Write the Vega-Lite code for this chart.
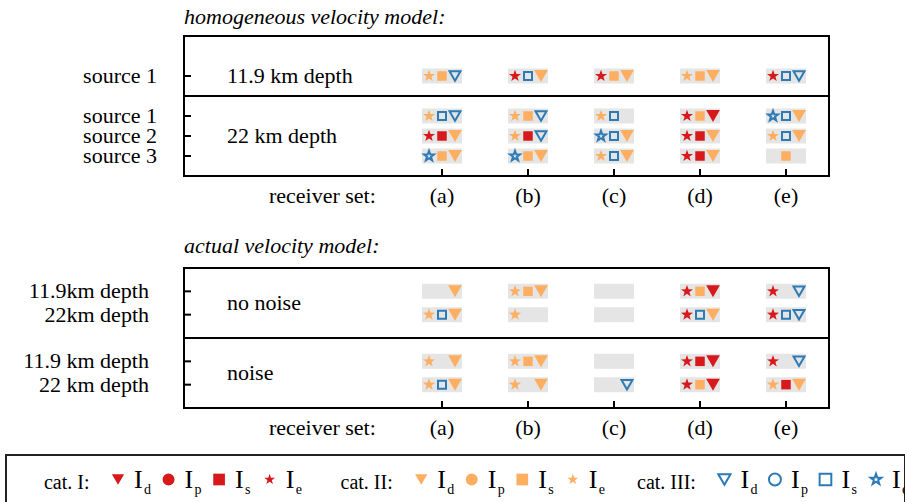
{
  "$schema": "https://vega.github.io/schema/vega-lite/v6.json",
  "padding": {"left": 5, "right": 0, "top": 5, "bottom": 0},
  "spacing": 14,
  "config": {
    "font": "Liberation Serif",
    "view": {"stroke": "black", "strokeWidth": 2},
    "title": {"font": "Liberation Serif", "fontSize": 22, "fontStyle": "italic", "fontWeight": "normal", "anchor": "start", "frame": "group", "color": "black"}
  },
  "datasets": {
    "c1": [
      {"r":1,"row":5},{"r":2,"row":5},{"r":3,"row":5},{"r":4,"row":5},{"r":5,"row":5},
      {"r":1,"row":3},{"r":2,"row":3},{"r":3,"row":3},{"r":4,"row":3},{"r":5,"row":3},
      {"r":1,"row":2},{"r":2,"row":2},{"r":3,"row":2},{"r":4,"row":2},{"r":5,"row":2},
      {"r":1,"row":1},{"r":2,"row":1},{"r":3,"row":1},{"r":4,"row":1},{"r":5,"row":1}
    ],
    "s1": [
      {"r":1,"row":5,"slot":"e","cat":"II"},{"r":1,"row":5,"slot":"s","cat":"II"},{"r":1,"row":5,"slot":"d","cat":"III"},
      {"r":2,"row":5,"slot":"e","cat":"I"},{"r":2,"row":5,"slot":"s","cat":"III"},{"r":2,"row":5,"slot":"d","cat":"II"},
      {"r":3,"row":5,"slot":"e","cat":"I"},{"r":3,"row":5,"slot":"s","cat":"II"},{"r":3,"row":5,"slot":"d","cat":"II"},
      {"r":4,"row":5,"slot":"e","cat":"II"},{"r":4,"row":5,"slot":"s","cat":"II"},{"r":4,"row":5,"slot":"d","cat":"II"},
      {"r":5,"row":5,"slot":"e","cat":"I"},{"r":5,"row":5,"slot":"s","cat":"III"},{"r":5,"row":5,"slot":"d","cat":"III"},
      {"r":1,"row":3,"slot":"e","cat":"II"},{"r":1,"row":3,"slot":"s","cat":"III"},{"r":1,"row":3,"slot":"d","cat":"III"},
      {"r":2,"row":3,"slot":"e","cat":"II"},{"r":2,"row":3,"slot":"s","cat":"II"},{"r":2,"row":3,"slot":"d","cat":"III"},
      {"r":3,"row":3,"slot":"e","cat":"II"},{"r":3,"row":3,"slot":"s","cat":"III"},
      {"r":4,"row":3,"slot":"e","cat":"I"},{"r":4,"row":3,"slot":"s","cat":"II"},{"r":4,"row":3,"slot":"d","cat":"I"},
      {"r":5,"row":3,"slot":"e","cat":"III"},{"r":5,"row":3,"slot":"s","cat":"III"},{"r":5,"row":3,"slot":"d","cat":"II"},
      {"r":1,"row":2,"slot":"e","cat":"I"},{"r":1,"row":2,"slot":"s","cat":"I"},{"r":1,"row":2,"slot":"d","cat":"II"},
      {"r":2,"row":2,"slot":"e","cat":"II"},{"r":2,"row":2,"slot":"s","cat":"I"},{"r":2,"row":2,"slot":"d","cat":"III"},
      {"r":3,"row":2,"slot":"e","cat":"III"},{"r":3,"row":2,"slot":"s","cat":"III"},{"r":3,"row":2,"slot":"d","cat":"II"},
      {"r":4,"row":2,"slot":"e","cat":"I"},{"r":4,"row":2,"slot":"s","cat":"I"},{"r":4,"row":2,"slot":"d","cat":"II"},
      {"r":5,"row":2,"slot":"e","cat":"II"},{"r":5,"row":2,"slot":"s","cat":"III"},{"r":5,"row":2,"slot":"d","cat":"II"},
      {"r":1,"row":1,"slot":"e","cat":"III"},{"r":1,"row":1,"slot":"s","cat":"II"},{"r":1,"row":1,"slot":"d","cat":"II"},
      {"r":2,"row":1,"slot":"e","cat":"III"},{"r":2,"row":1,"slot":"s","cat":"II"},{"r":2,"row":1,"slot":"d","cat":"II"},
      {"r":3,"row":1,"slot":"e","cat":"II"},{"r":3,"row":1,"slot":"s","cat":"III"},{"r":3,"row":1,"slot":"d","cat":"II"},
      {"r":4,"row":1,"slot":"e","cat":"I"},{"r":4,"row":1,"slot":"s","cat":"I"},{"r":4,"row":1,"slot":"d","cat":"II"},
      {"r":5,"row":1,"slot":"s","cat":"II"}
    ],
    "c2": [
      {"r":1,"row":5},{"r":2,"row":5},{"r":3,"row":5},{"r":4,"row":5},{"r":5,"row":5},
      {"r":1,"row":4},{"r":2,"row":4},{"r":3,"row":4},{"r":4,"row":4},{"r":5,"row":4},
      {"r":1,"row":2},{"r":2,"row":2},{"r":3,"row":2},{"r":4,"row":2},{"r":5,"row":2},
      {"r":1,"row":1},{"r":2,"row":1},{"r":3,"row":1},{"r":4,"row":1},{"r":5,"row":1}
    ],
    "s2": [
      {"r":1,"row":5,"slot":"d","cat":"II"},
      {"r":2,"row":5,"slot":"e","cat":"II"},{"r":2,"row":5,"slot":"s","cat":"II"},{"r":2,"row":5,"slot":"d","cat":"II"},
      {"r":4,"row":5,"slot":"e","cat":"I"},{"r":4,"row":5,"slot":"s","cat":"II"},{"r":4,"row":5,"slot":"d","cat":"I"},
      {"r":5,"row":5,"slot":"e","cat":"I"},{"r":5,"row":5,"slot":"d","cat":"III"},
      {"r":1,"row":4,"slot":"e","cat":"II"},{"r":1,"row":4,"slot":"s","cat":"III"},{"r":1,"row":4,"slot":"d","cat":"II"},
      {"r":2,"row":4,"slot":"e","cat":"II"},
      {"r":4,"row":4,"slot":"e","cat":"I"},{"r":4,"row":4,"slot":"s","cat":"III"},{"r":4,"row":4,"slot":"d","cat":"II"},
      {"r":5,"row":4,"slot":"e","cat":"I"},{"r":5,"row":4,"slot":"s","cat":"III"},{"r":5,"row":4,"slot":"d","cat":"III"},
      {"r":1,"row":2,"slot":"e","cat":"II"},{"r":1,"row":2,"slot":"d","cat":"II"},
      {"r":2,"row":2,"slot":"e","cat":"II"},{"r":2,"row":2,"slot":"s","cat":"II"},{"r":2,"row":2,"slot":"d","cat":"II"},
      {"r":4,"row":2,"slot":"e","cat":"I"},{"r":4,"row":2,"slot":"s","cat":"I"},{"r":4,"row":2,"slot":"d","cat":"I"},
      {"r":5,"row":2,"slot":"e","cat":"I"},{"r":5,"row":2,"slot":"d","cat":"III"},
      {"r":1,"row":1,"slot":"e","cat":"II"},{"r":1,"row":1,"slot":"s","cat":"III"},{"r":1,"row":1,"slot":"d","cat":"II"},
      {"r":2,"row":1,"slot":"e","cat":"II"},{"r":2,"row":1,"slot":"d","cat":"II"},
      {"r":3,"row":1,"slot":"d","cat":"III"},
      {"r":4,"row":1,"slot":"e","cat":"I"},{"r":4,"row":1,"slot":"s","cat":"II"},{"r":4,"row":1,"slot":"d","cat":"I"},
      {"r":5,"row":1,"slot":"e","cat":"II"},{"r":5,"row":1,"slot":"s","cat":"I"},{"r":5,"row":1,"slot":"d","cat":"II"}
    ],
    "xl": [{"r":1,"label":"(a)"},{"r":2,"label":"(b)"},{"r":3,"label":"(c)"},{"r":4,"label":"(d)"},{"r":5,"label":"(e)"}],
    "yl1": [{"row":5,"label":"source 1"},{"row":3,"label":"source 1"},{"row":2,"label":"source 2"},{"row":1,"label":"source 3"}],
    "yl2": [{"row":5,"label":"11.9km depth\u00a0"},{"row":4,"label":"22km depth"},{"row":2,"label":"11.9 km depth\u00a0"},{"row":1,"label":"22 km depth"}],
    "leg": [
      {"key":"Ilabel","cat":"I","kind":"label","text":"cat. I:"},{"key":"Id","cat":"I","kind":"d"},{"key":"Ip","cat":"I","kind":"p"},{"key":"Is","cat":"I","kind":"s"},{"key":"Ie","cat":"I","kind":"e"},
      {"key":"IIlabel","cat":"II","kind":"label","text":"cat. II:"},{"key":"IId","cat":"II","kind":"d"},{"key":"IIp","cat":"II","kind":"p"},{"key":"IIs","cat":"II","kind":"s"},{"key":"IIe","cat":"II","kind":"e"},
      {"key":"IIIlabel","cat":"III","kind":"label","text":"cat. III:"},{"key":"IIId","cat":"III","kind":"d"},{"key":"IIIp","cat":"III","kind":"p"},{"key":"IIIs","cat":"III","kind":"s"},{"key":"IIIe","cat":"III","kind":"e"}
    ]
  },
  "vconcat": [
    {
      "width": 645, "height": 140,
      "title": {"text": "homogeneous velocity model:", "offset": -10, "baseline": "alphabetic"},
      "layer": [
        {"data": {"name": "c1"}, "mark": {"type": "point", "shape": "M-1,-0.375H1V0.375H-1Z", "size": 1600, "filled": true, "color": "#e5e5e5", "opacity": 1, "strokeWidth": 0},
         "encoding": {
           "x": {"field": "r", "type": "quantitative", "scale": {"domain": [-2, 5.5], "nice": false, "zero": false}, "axis": null},
           "y": {"field": "row", "type": "quantitative", "scale": {"domain": [0, 7], "nice": false, "zero": false}, "axis": null}
         }},
        {"data": {"name": "s1"}, "transform": [{"filter": "datum.slot == 'e' && datum.cat != 'III'"}], "mark": {"type": "point", "shape": "M0,-1L0.235,-0.324L0.951,-0.309L0.38,0.124L0.588,0.809L0,0.4L-0.588,0.809L-0.38,0.124L-0.951,-0.309L-0.235,-0.324Z", "size": 160, "xOffset": -13, "filled": true, "opacity": 1},
         "encoding": {"x": {"field": "r", "type": "quantitative", "axis": null}, "y": {"field": "row", "type": "quantitative", "axis": null}, "color": {"field": "cat", "type": "nominal", "scale": {"domain": ["I","II"], "range": ["#d7191c","#fdae61"]}, "legend": null}}},
        {"data": {"name": "s1"}, "transform": [{"filter": "datum.slot == 'e' && datum.cat == 'III'"}], "mark": {"type": "point", "shape": "M0,-1L0.235,-0.324L0.951,-0.309L0.38,0.124L0.588,0.809L0,0.4L-0.588,0.809L-0.38,0.124L-0.951,-0.309L-0.235,-0.324Z", "size": 110, "xOffset": -13, "filled": false, "opacity": 1, "color": "#2c7bb6", "strokeWidth": 2},
         "encoding": {"x": {"field": "r", "type": "quantitative", "axis": null}, "y": {"field": "row", "type": "quantitative", "axis": null}}},
        {"data": {"name": "s1"}, "transform": [{"filter": "datum.slot == 's' && datum.cat != 'III'"}], "mark": {"type": "point", "shape": "square", "size": 90, "filled": true, "opacity": 1},
         "encoding": {"x": {"field": "r", "type": "quantitative", "axis": null}, "y": {"field": "row", "type": "quantitative", "axis": null}, "color": {"field": "cat", "type": "nominal", "scale": {"domain": ["I","II"], "range": ["#d7191c","#fdae61"]}, "legend": null}}},
        {"data": {"name": "s1"}, "transform": [{"filter": "datum.slot == 's' && datum.cat == 'III'"}], "mark": {"type": "point", "shape": "square", "size": 64, "filled": false, "opacity": 1, "color": "#2c7bb6", "strokeWidth": 2},
         "encoding": {"x": {"field": "r", "type": "quantitative", "axis": null}, "y": {"field": "row", "type": "quantitative", "axis": null}}},
        {"data": {"name": "s1"}, "transform": [{"filter": "datum.slot == 'd' && datum.cat != 'III'"}], "mark": {"type": "point", "shape": "triangle-down", "size": 190, "xOffset": 13, "filled": true, "opacity": 1},
         "encoding": {"x": {"field": "r", "type": "quantitative", "axis": null}, "y": {"field": "row", "type": "quantitative", "axis": null}, "color": {"field": "cat", "type": "nominal", "scale": {"domain": ["I","II"], "range": ["#d7191c","#fdae61"]}, "legend": null}}},
        {"data": {"name": "s1"}, "transform": [{"filter": "datum.slot == 'd' && datum.cat == 'III'"}], "mark": {"type": "point", "shape": "triangle-down", "size": 120, "xOffset": 13, "filled": false, "opacity": 1, "color": "#2c7bb6", "strokeWidth": 2},
         "encoding": {"x": {"field": "r", "type": "quantitative", "axis": null}, "y": {"field": "row", "type": "quantitative", "axis": null}}},
        {"data": {"values": [{"b": 4}]}, "mark": {"type": "rule", "color": "black", "strokeWidth": 2},
         "encoding": {"y": {"field": "b", "type": "quantitative", "axis": null}}},
        {"data": {"values": [{"label": "11.9 km depth", "row": 5}, {"label": "22 km depth", "row": 2}]},
         "mark": {"type": "text", "align": "left", "baseline": "middle", "fontSize": 22, "color": "black"},
         "encoding": {"x": {"datum": -1.5, "type": "quantitative", "axis": null}, "y": {"field": "row", "type": "quantitative", "axis": null}, "text": {"field": "label"}}},
        {"data": {"name": "xl"}, "mark": {"type": "point", "shape": "M0,0L0,-1", "size": 196, "filled": false, "opacity": 1, "color": "black", "strokeWidth": 2},
         "encoding": {"x": {"field": "r", "type": "quantitative", "axis": null}, "y": {"datum": 0, "type": "quantitative", "axis": null}}},
        {"data": {"name": "xl"}, "mark": {"type": "text", "align": "center", "baseline": "alphabetic", "dy": 27, "fontSize": 22, "color": "black"},
         "encoding": {"x": {"field": "r", "type": "quantitative", "axis": null}, "y": {"datum": 0, "type": "quantitative", "axis": null}, "text": {"field": "label"}}},
        {"data": {"values": [{"t": "receiver set:"}]}, "mark": {"type": "text", "align": "right", "baseline": "alphabetic", "dy": 27, "fontSize": 22, "color": "black"},
         "encoding": {"x": {"datum": 0.23, "type": "quantitative", "axis": null}, "y": {"datum": 0, "type": "quantitative", "axis": null}, "text": {"field": "t"}}},
        {"data": {"values": [{"t": "receiver set:"}]}, "mark": {"type": "text", "align": "right", "baseline": "alphabetic", "dy": 39, "fontSize": 22, "color": "black", "opacity": 0},
         "encoding": {"x": {"datum": 0.23, "type": "quantitative", "axis": null}, "y": {"datum": 0, "type": "quantitative", "axis": null}, "text": {"field": "t"}}},
        {"data": {"name": "yl1"}, "mark": {"type": "point", "shape": "M0,0L1,0", "size": 196, "filled": false, "opacity": 1, "color": "black", "strokeWidth": 2},
         "encoding": {"x": {"datum": -2, "type": "quantitative", "axis": null}, "y": {"field": "row", "type": "quantitative", "axis": null}}},
        {"data": {"name": "yl1"}, "mark": {"type": "text", "align": "right", "baseline": "middle", "dx": -27, "fontSize": 22, "color": "black"},
         "encoding": {"x": {"datum": -2, "type": "quantitative", "axis": null}, "y": {"field": "row", "type": "quantitative", "axis": null}, "text": {"field": "label"}}}
      ]
    },
    {
      "width": 645, "height": 140,
      "title": {"text": "actual velocity model:", "offset": -7, "baseline": "alphabetic"},
      "layer": [
        {"data": {"name": "c2"}, "mark": {"type": "point", "shape": "M-1,-0.375H1V0.375H-1Z", "size": 1600, "filled": true, "color": "#e5e5e5", "opacity": 1, "strokeWidth": 0},
         "encoding": {
           "x": {"field": "r", "type": "quantitative", "scale": {"domain": [-2, 5.5], "nice": false, "zero": false}, "axis": null},
           "y": {"field": "row", "type": "quantitative", "scale": {"domain": [0, 6], "nice": false, "zero": false}, "axis": null}
         }},
        {"data": {"name": "s2"}, "transform": [{"filter": "datum.slot == 'e' && datum.cat != 'III'"}], "mark": {"type": "point", "shape": "M0,-1L0.235,-0.324L0.951,-0.309L0.38,0.124L0.588,0.809L0,0.4L-0.588,0.809L-0.38,0.124L-0.951,-0.309L-0.235,-0.324Z", "size": 160, "xOffset": -13, "filled": true, "opacity": 1},
         "encoding": {"x": {"field": "r", "type": "quantitative", "axis": null}, "y": {"field": "row", "type": "quantitative", "axis": null}, "color": {"field": "cat", "type": "nominal", "scale": {"domain": ["I","II"], "range": ["#d7191c","#fdae61"]}, "legend": null}}},
        {"data": {"name": "s2"}, "transform": [{"filter": "datum.slot == 'e' && datum.cat == 'III'"}], "mark": {"type": "point", "shape": "M0,-1L0.235,-0.324L0.951,-0.309L0.38,0.124L0.588,0.809L0,0.4L-0.588,0.809L-0.38,0.124L-0.951,-0.309L-0.235,-0.324Z", "size": 110, "xOffset": -13, "filled": false, "opacity": 1, "color": "#2c7bb6", "strokeWidth": 2},
         "encoding": {"x": {"field": "r", "type": "quantitative", "axis": null}, "y": {"field": "row", "type": "quantitative", "axis": null}}},
        {"data": {"name": "s2"}, "transform": [{"filter": "datum.slot == 's' && datum.cat != 'III'"}], "mark": {"type": "point", "shape": "square", "size": 90, "filled": true, "opacity": 1},
         "encoding": {"x": {"field": "r", "type": "quantitative", "axis": null}, "y": {"field": "row", "type": "quantitative", "axis": null}, "color": {"field": "cat", "type": "nominal", "scale": {"domain": ["I","II"], "range": ["#d7191c","#fdae61"]}, "legend": null}}},
        {"data": {"name": "s2"}, "transform": [{"filter": "datum.slot == 's' && datum.cat == 'III'"}], "mark": {"type": "point", "shape": "square", "size": 64, "filled": false, "opacity": 1, "color": "#2c7bb6", "strokeWidth": 2},
         "encoding": {"x": {"field": "r", "type": "quantitative", "axis": null}, "y": {"field": "row", "type": "quantitative", "axis": null}}},
        {"data": {"name": "s2"}, "transform": [{"filter": "datum.slot == 'd' && datum.cat != 'III'"}], "mark": {"type": "point", "shape": "triangle-down", "size": 190, "xOffset": 13, "filled": true, "opacity": 1},
         "encoding": {"x": {"field": "r", "type": "quantitative", "axis": null}, "y": {"field": "row", "type": "quantitative", "axis": null}, "color": {"field": "cat", "type": "nominal", "scale": {"domain": ["I","II"], "range": ["#d7191c","#fdae61"]}, "legend": null}}},
        {"data": {"name": "s2"}, "transform": [{"filter": "datum.slot == 'd' && datum.cat == 'III'"}], "mark": {"type": "point", "shape": "triangle-down", "size": 120, "xOffset": 13, "filled": false, "opacity": 1, "color": "#2c7bb6", "strokeWidth": 2},
         "encoding": {"x": {"field": "r", "type": "quantitative", "axis": null}, "y": {"field": "row", "type": "quantitative", "axis": null}}},
        {"data": {"values": [{"b": 3}]}, "mark": {"type": "rule", "color": "black", "strokeWidth": 2},
         "encoding": {"y": {"field": "b", "type": "quantitative", "axis": null}}},
        {"data": {"values": [{"label": "no noise", "row": 4.5}, {"label": "noise", "row": 1.5}]},
         "mark": {"type": "text", "align": "left", "baseline": "middle", "fontSize": 22, "color": "black"},
         "encoding": {"x": {"datum": -1.5, "type": "quantitative", "axis": null}, "y": {"field": "row", "type": "quantitative", "axis": null}, "text": {"field": "label"}}},
        {"data": {"name": "xl"}, "mark": {"type": "point", "shape": "M0,0L0,-1", "size": 196, "filled": false, "opacity": 1, "color": "black", "strokeWidth": 2},
         "encoding": {"x": {"field": "r", "type": "quantitative", "axis": null}, "y": {"datum": 0, "type": "quantitative", "axis": null}}},
        {"data": {"name": "xl"}, "mark": {"type": "text", "align": "center", "baseline": "alphabetic", "dy": 27, "fontSize": 22, "color": "black"},
         "encoding": {"x": {"field": "r", "type": "quantitative", "axis": null}, "y": {"datum": 0, "type": "quantitative", "axis": null}, "text": {"field": "label"}}},
        {"data": {"values": [{"t": "receiver set:"}]}, "mark": {"type": "text", "align": "right", "baseline": "alphabetic", "dy": 27, "fontSize": 22, "color": "black"},
         "encoding": {"x": {"datum": 0.23, "type": "quantitative", "axis": null}, "y": {"datum": 0, "type": "quantitative", "axis": null}, "text": {"field": "t"}}},
        {"data": {"name": "yl2"}, "mark": {"type": "point", "shape": "M0,0L1,0", "size": 196, "filled": false, "opacity": 1, "color": "black", "strokeWidth": 2},
         "encoding": {"x": {"datum": -2, "type": "quantitative", "axis": null}, "y": {"field": "row", "type": "quantitative", "axis": null}}},
        {"data": {"name": "yl2"}, "mark": {"type": "text", "align": "right", "baseline": "middle", "dx": -35, "fontSize": 22, "color": "black"},
         "encoding": {"x": {"datum": -2, "type": "quantitative", "axis": null}, "y": {"field": "row", "type": "quantitative", "axis": null}, "text": {"field": "label"}}}
      ]
    },
    {
      "width": 645, "height": 49,
      "view": {"stroke": null},
      "data": {"name": "leg"},
      "encoding": {
        "x": {"field": "key", "type": "nominal", "scale": {"type": "point", "domain": ["Ilabel","Id","Ip","Is","Ie","gap1","IIlabel","IId","IIp","IIs","IIe","gap2","IIIlabel","IIId","IIIp","IIIs","IIIe"], "range": [-116.5, 692], "padding": 0}, "axis": null}
      },
      "layer": [
        {"transform": [{"filter": "datum.kind == 'label' && datum.cat == 'I'"}],
         "mark": {"type": "rect", "filled": false, "stroke": "#222222", "strokeWidth": 2, "xOffset": -61.5, "x2Offset": 29},
         "encoding": {"x2": {"datum": "IIIe"}}},
        {"transform": [{"filter": "datum.kind != 'label' && datum.cat != 'III'"}], "mark": {"type": "point", "filled": true, "opacity": 1},
         "encoding": {
           "shape": {"field": "kind", "type": "nominal", "scale": {"domain": ["d","p","s","e"], "range": ["triangle-down","circle","square","M0,-1L0.235,-0.324L0.951,-0.309L0.38,0.124L0.588,0.809L0,0.4L-0.588,0.809L-0.38,0.124L-0.951,-0.309L-0.235,-0.324Z"]}, "legend": null},
           "size": {"field": "kind", "type": "ordinal", "scale": {"domain": ["d","p","s","e"], "range": [150, 130, 60, 120]}, "legend": null},
           "color": {"field": "cat", "type": "nominal", "scale": {"domain": ["I","II"], "range": ["#d7191c","#fdae61"]}, "legend": null}}},
        {"transform": [{"filter": "datum.kind != 'label' && datum.cat == 'III'"}], "mark": {"type": "point", "filled": false, "opacity": 1, "color": "#2c7bb6", "strokeWidth": 2},
         "encoding": {
           "shape": {"field": "kind", "type": "nominal", "scale": {"domain": ["d","p","s","e"], "range": ["triangle-down","circle","square","M0,-1L0.235,-0.324L0.951,-0.309L0.38,0.124L0.588,0.809L0,0.4L-0.588,0.809L-0.38,0.124L-0.951,-0.309L-0.235,-0.324Z"]}, "legend": null},
           "size": {"field": "kind", "type": "ordinal", "scale": {"domain": ["d","p","s","e"], "range": [150, 130, 60, 120]}, "legend": null}}},
        {"transform": [{"filter": "datum.kind == 'label'"}], "mark": {"type": "text", "align": "right", "baseline": "alphabetic", "dx": 22, "dy": 9, "fontSize": 20, "color": "black"},
         "encoding": {"text": {"field": "text"}}},
        {"transform": [{"filter": "datum.kind != 'label'"}], "mark": {"type": "text", "text": "I", "align": "left", "baseline": "alphabetic", "dx": 16, "dy": 8, "fontSize": 26, "color": "black"}},
        {"transform": [{"filter": "datum.kind != 'label'"}], "mark": {"type": "text", "align": "left", "baseline": "alphabetic", "dx": 26, "dy": 14, "fontSize": 14, "color": "black"},
         "encoding": {"text": {"field": "kind"}}}
      ]
    }
  ]
}
